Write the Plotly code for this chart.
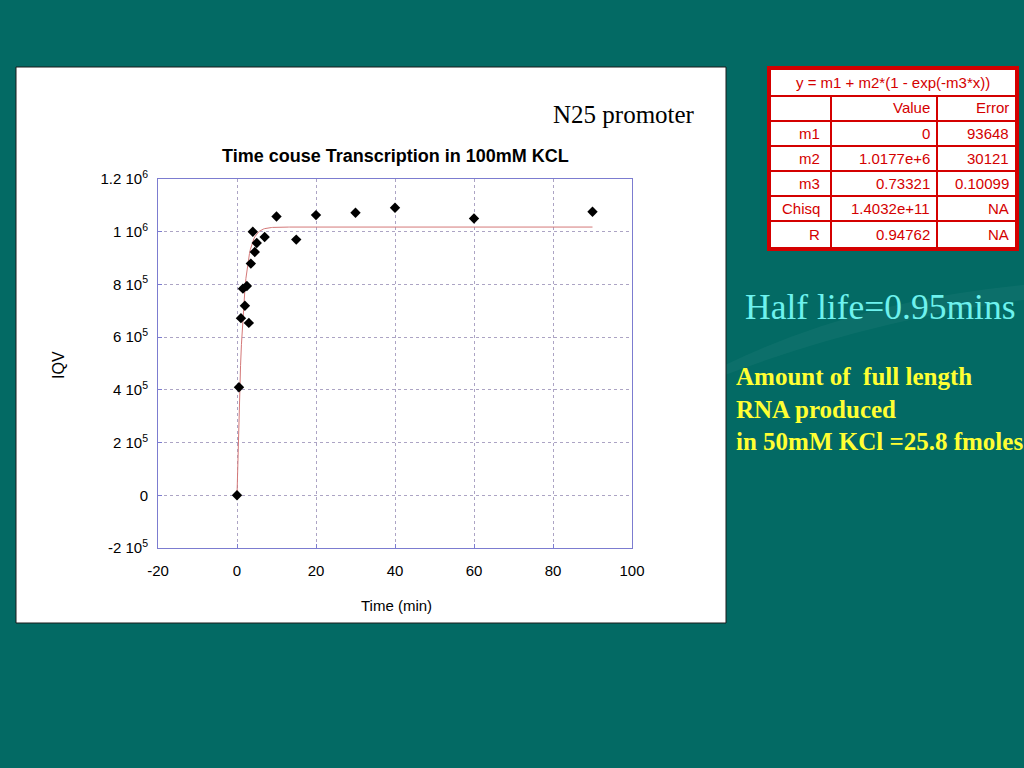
import numpy as np
import plotly.graph_objects as go

# ---- data ----
time_min = [0, 0.5, 1, 1.5, 2, 2.5, 3, 3.5, 4, 4.5, 5, 7, 10, 15, 20, 30, 40, 60, 90]
iqv = [0, 4.10e5, 6.72e5, 7.84e5, 7.19e5, 7.94e5, 6.54e5, 8.79e5, 1.000e6, 9.23e5,
       9.57e5, 9.80e5, 1.058e6, 9.70e5, 1.063e6, 1.072e6, 1.091e6, 1.050e6, 1.076e6]

# fit parameters (from the table on the slide)
m1, m2, m3 = 0.0, 1.0177e6, 0.73321
fit_x = np.linspace(0, 90, 400)
fit_y = m1 + m2 * (1 - np.exp(-m3 * fit_x))

x_ticks = [-20, 0, 20, 40, 60, 80, 100]
x_ticktext = ["-20", "0", "20", "40", "60", "80", "100"]
y_ticks = [-2e5, 0, 2e5, 4e5, 6e5, 8e5, 1e6, 1.2e6]
y_ticktext = ["-2 10<sup>5</sup>", "0", "2 10<sup>5</sup>", "4 10<sup>5</sup>",
              "6 10<sup>5</sup>", "8 10<sup>5</sup>", "1 10<sup>6</sup>", "1.2 10<sup>6</sup>"]

table_header = ["", "Value", "Error"]
table_rows = [["m1", "0", "93648"],
              ["m2", "1.0177e+6", "30121"],
              ["m3", "0.73321", "0.10099"],
              ["Chisq", "1.4032e+11", "NA"],
              ["R", "0.94762", "NA"]]
fit_equation = "y = m1 + m2*(1 - exp(-m3*x))"

W, H = 1024, 768
BG = "#036a64"
RED = "#d40000"
PL, PR, PT, PB = 158, 632, 179, 548

fig = go.Figure()
fig.add_trace(go.Scatter(x=fit_x, y=fit_y, mode="lines",
                         line=dict(color="#d47878", width=1), hoverinfo="skip"))
fig.add_trace(go.Scatter(x=time_min, y=iqv, mode="markers",
                         marker=dict(symbol="diamond", size=8, color="black")))

def fx(x):
    return (x - PL) / (PR - PL)

def fy(y):
    return (PB - y) / (PB - PT)

def rect(x0, y0, x1, y1, **kw):
    return dict(type="rect", xref="paper", yref="paper",
                x0=fx(x0), x1=fx(x1), y0=fy(y0), y1=fy(y1), **kw)

shapes = []
# faint lighter swoosh on the slide background
shapes.append(dict(type="path", xref="paper", yref="paper", layer="below",
                   path=f"M {fx(725)},{fy(365)} Q {fx(860)},{fy(300)} {fx(1024)},{fy(285)} "
                        f"L {fx(1024)},{fy(300)} Q {fx(870)},{fy(320)} {fx(725)},{fy(375)} Z",
                   fillcolor="rgba(255,255,255,0.04)", line=dict(width=0)))
# white chart panel
shapes.append(rect(16, 67, 726, 623, fillcolor="white", line=dict(color="#1a1a1a", width=1), layer="below"))
# table
shapes.append(rect(767, 66, 1019, 251, fillcolor=RED, line=dict(width=0), layer="above"))
shapes.append(rect(771, 70, 1015, 247, fillcolor="white", line=dict(width=0), layer="above"))
row_edges = [70, 96, 121, 146, 171, 196, 221, 247]
for yy in row_edges[1:-1]:
    shapes.append(dict(type="line", xref="paper", yref="paper",
                       x0=fx(771), x1=fx(1015), y0=fy(yy), y1=fy(yy),
                       line=dict(color=RED, width=2)))
for xx in [831, 937]:
    shapes.append(dict(type="line", xref="paper", yref="paper",
                       x0=fx(xx), x1=fx(xx), y0=fy(96), y1=fy(247),
                       line=dict(color=RED, width=2)))

def ann(text, x, y, size, color="black", family="Arial", xanchor="center", yanchor="middle", **kw):
    return dict(text=text, xref="paper", yref="paper",
                x=fx(x), y=fy(y), showarrow=False,
                font=dict(size=size, color=color, family=family),
                xanchor=xanchor, yanchor=yanchor, **kw)

anns = []
anns.append(ann("<b>Time couse Transcription in 100mM KCL</b>", 395, 156, 18))
anns.append(ann("N25 promoter", 697, 115, 25, family="Liberation Serif", xanchor="right"))
anns.append(ann("Time (min)", 396, 605, 15))
anns.append(ann("IQV", 58, 365, 16, textangle=-90))
# table text
anns.append(ann(fit_equation, 893, 83, 15, color=RED))
for j, h in enumerate(table_header):
    if h:
        right = [826, 932, 1011][j]
        anns.append(ann(h, right, 108, 15, color=RED, xanchor="right"))
for i, row in enumerate(table_rows):
    yc = (row_edges[i + 2] + row_edges[i + 3]) / 2
    for j, v in enumerate(row):
        right = [822, 932, 1011][j]
        anns.append(ann(v, right, yc, 15, color=RED, xanchor="right"))
# slide text
anns.append(ann("Half life=0.95mins", 743, 307, 35.5, color="#6ef2ee",
                family="Liberation Serif", xanchor="left"))
anns.append(ann("<b>Amount of  full length<br>RNA produced<br>in 50mM KCl =25.8 fmoles</b>",
                734, 409, 25, color="#ffff33", family="Liberation Serif",
                xanchor="left", align="left"))

axis_common = dict(ticks="inside", ticklen=4, tickcolor="#7c7cd0",
                   showline=True, mirror=True, linecolor="#7c7cd0", linewidth=1,
                   showgrid=True, gridcolor="#aca4c4", griddash="3px,3px", gridwidth=1,
                   zeroline=False, tickfont=dict(family="Arial", size=15, color="black"))

fig.update_layout(
    width=W, height=H, autosize=False,
    margin=dict(l=PL, r=W - PR, t=PT, b=H - PB),
    paper_bgcolor=BG, plot_bgcolor="white",
    showlegend=False,
    shapes=shapes, annotations=anns,
    xaxis=dict(range=[-20, 100], tickvals=x_ticks, ticktext=x_ticktext,
               ticklabelstandoff=9, **axis_common),
    yaxis=dict(range=[-2e5, 1.2e6], tickvals=y_ticks, ticktext=y_ticktext,
               ticklabelstandoff=6, **axis_common),
)
fig.write_html("out.html", config={"displayModeBar": False},
               post_script="document.body.style.margin='0';document.body.style.background='#036a64';document.body.style.overflow='hidden';")
